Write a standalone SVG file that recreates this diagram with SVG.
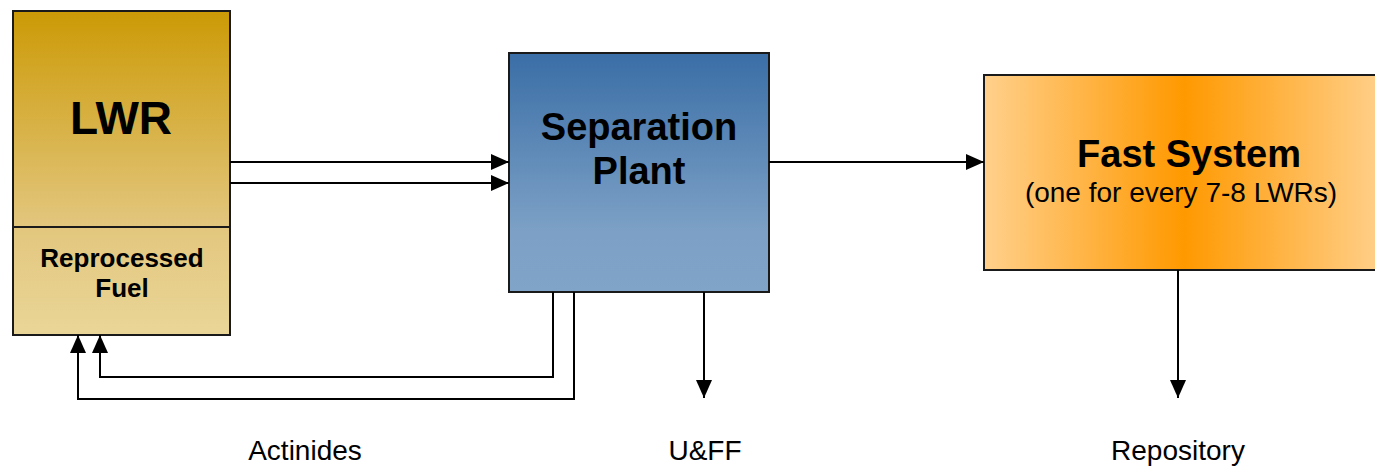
<svg xmlns="http://www.w3.org/2000/svg" width="1375" height="467" viewBox="0 0 1375 467">
<defs>
<linearGradient id="gLWR" x1="0" y1="0" x2="0" y2="1">
<stop offset="0" stop-color="#CC9A06"/>
<stop offset="0.66" stop-color="#E2C67D"/>
<stop offset="1" stop-color="#EAD698"/>
</linearGradient>
<linearGradient id="gSep" x1="0" y1="0" x2="0" y2="1">
<stop offset="0" stop-color="#3A6EA6"/>
<stop offset="0.75" stop-color="#7DA1C6"/>
<stop offset="1" stop-color="#80A4C8"/>
</linearGradient>
<linearGradient id="gFast" x1="0" y1="0" x2="1" y2="0">
<stop offset="0" stop-color="#FFD08C"/>
<stop offset="0.5" stop-color="#FF9900"/>
<stop offset="1" stop-color="#FFD08C"/>
</linearGradient>
<marker id="ah" viewBox="0 0 18 16" refX="18" refY="8" markerWidth="18" markerHeight="16" markerUnits="userSpaceOnUse" orient="auto">
<path d="M0,0 L18,8 L0,16 Z" fill="#000"/>
</marker>
<style>
.box{stroke:#1a1a1a;stroke-width:2}
.ln{fill:none;stroke:#000;stroke-width:2;marker-end:url(#ah)}
.b{font-family:"Liberation Sans",Arial,sans-serif;font-weight:bold;fill:#000;text-anchor:middle}
.r{font-family:"Liberation Sans",Arial,sans-serif;fill:#000;text-anchor:middle}
</style>
</defs>
<g id="lwr">
<rect class="box" x="13" y="11" width="217" height="324" fill="url(#gLWR)"/>
<line x1="13" y1="227" x2="230" y2="227" stroke="#1a1a1a" stroke-width="2"/>
<text class="b" x="121" y="134" font-size="46">LWR</text>
<text class="b" x="122" y="267" font-size="26">Reprocessed</text>
<text class="b" x="122" y="297" font-size="26">Fuel</text>
</g>
<g id="separation">
<rect class="box" x="509" y="53" width="260" height="239" fill="url(#gSep)"/>
<text class="b" x="639" y="140" font-size="38">Separation</text>
<text class="b" x="639" y="184" font-size="38">Plant</text>
</g>
<g id="fast">
<rect class="box" x="984" y="75" width="400" height="195" fill="url(#gFast)"/>
<text class="b" x="1189" y="167" font-size="38">Fast System</text>
<text class="r" x="1181" y="202" font-size="28">(one for every 7-8 LWRs)</text>
</g>
<g id="connectors">
<path class="ln" d="M230,162 L509,162"/>
<path class="ln" d="M230,183 L509,183"/>
<path class="ln" d="M769,162 L984,162"/>
<path class="ln" d="M553,292 L553,377 L100,377 L100,335"/>
<path class="ln" d="M574,292 L574,399 L78,399 L78,335"/>
<path class="ln" d="M704,292 L704,398"/>
<path class="ln" d="M1178,270 L1178,398"/>
</g>
<g id="labels">
<text class="r" x="305" y="460" font-size="28">Actinides</text>
<text class="r" x="705" y="460" font-size="28">U&amp;FF</text>
<text class="r" x="1178" y="460" font-size="28">Repository</text>
</g>
</svg>
